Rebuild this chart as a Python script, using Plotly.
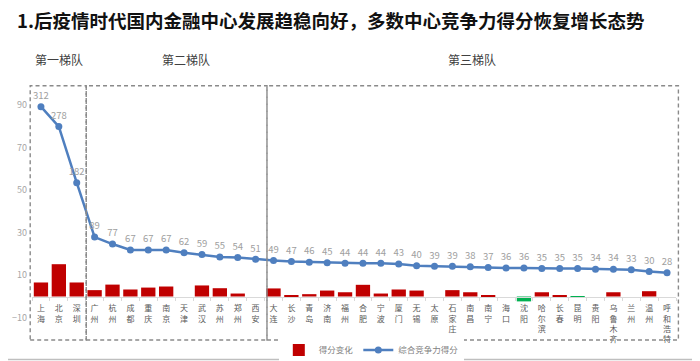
import plotly.graph_objects as go

cities = ["上海", "北京", "深圳", "广州", "杭州", "成都", "重庆", "南京", "天津", "武汉",
          "苏州", "郑州", "西安", "大连", "长沙", "青岛", "济南", "福州", "合肥", "宁波",
          "厦门", "无锡", "太原", "石家庄", "南昌", "南宁", "海口", "沈阳", "哈尔滨", "长春",
          "昆明", "贵阳", "乌鲁木齐", "兰州", "温州", "呼和浩特"]
score_change = [6.6, 15.2, 6.6, 3.0, 5.6, 3.3, 4.2, 4.7, 0, 5.2,
                3.9, 1.4, 0, 3.8, 0.5, 1.1, 2.8, 2.0, 5.5, 1.4,
                3.3, 2.8, 0, 3.0, 2.0, 0.3, 0, -2.3, 2.0, 0.6,
                -0.5, 0, 2.0, 0, 2.5, 0]
total_score = [312, 278, 182, 89, 77, 67, 67, 67, 62, 59,
               55, 54, 51, 49, 47, 46, 45, 44, 44, 44,
               43, 40, 39, 39, 38, 37, 36, 36, 35, 35,
               35, 34, 34, 33, 30, 28]
y_ticks = [-10, 10, 30, 50, 70, 90]
tier_names = ["第一梯队", "第二梯队", "第三梯队"]

FONT = "Noto Sans CJK SC"
tick_text = ["<br>".join(list(c)) for c in cities]
bar_colors = ["#C00000" if v >= 0 else "#00B050" for v in score_change]

# the page body has an 8px margin, so the figure is drawn 8px right/down
OFF = 8
W, H = 700 - OFF, 361 - OFF
PL, PR, PT, PB = 31.8, 675.6, 84, 339  # plot area in window pixels
PW, PH = PR - PL, PB - PT


def px_x(px):
    return (px - PL) / PW


def px_y(py):
    return (PB - py) / PH


fig = go.Figure()
fig.add_trace(go.Bar(
    x=cities, y=score_change, name="得分变化",
    marker=dict(color=bar_colors, line=dict(width=0)),
    yaxis="y",
))
fig.add_trace(go.Scatter(
    x=cities, y=total_score, name="综合竞争力得分",
    mode="lines+markers+text",
    text=[str(v) for v in total_score], textposition="top center",
    textfont=dict(family=FONT, size=9.5, color="#A0A0A0"),
    line=dict(color="#4F7FBF", width=2.5),
    marker=dict(color="#4F7FBF", size=7),
    yaxis="y2", cliponaxis=False,
))

ymin, ymax = -20, 100
zero_pos = (0 - ymin) / (ymax - ymin)

shapes = []
box_edges_px = [30, 86, 266.7, 678]
for i in range(3):
    shapes.append(dict(type="rect", xref="paper", yref="paper",
                       x0=px_x(box_edges_px[i]), x1=px_x(box_edges_px[i + 1]),
                       y0=px_y(340), y1=px_y(85.7),
                       line=dict(color="#8A8A8A", width=1.4, dash="4px,3px"),
                       fillcolor="rgba(0,0,0,0)", layer="above"))
# slide border lines
shapes.append(dict(type="line", xref="paper", yref="paper", x0=px_x(0), x1=px_x(700),
                   y0=px_y(359.5), y1=px_y(359.5), line=dict(color="#BFBFBF", width=1.5)))
shapes.append(dict(type="line", xref="paper", yref="paper", x0=px_x(699), x1=px_x(699),
                   y0=px_y(361), y1=px_y(0), line=dict(color="#D0D0D0", width=1)))

annotations = []
for name, px in zip(tier_names, [59, 186, 472]):
    annotations.append(dict(text=name, xref="paper", yref="paper",
                            x=px_x(px), y=px_y(60),
                            showarrow=False, xanchor="center", yanchor="middle",
                            font=dict(family=FONT, size=12, color="#404040")))

fig.update_layout(
    width=W, height=H,
    margin=dict(l=PL - OFF, r=W - (PR - OFF), t=PT - OFF, b=H - (PB - OFF), autoexpand=False),
    paper_bgcolor="white", plot_bgcolor="white",
    font=dict(family=FONT),
    title=dict(text="<b>1.后疫情时代国内金融中心发展趋稳向好，多数中心竞争力得分恢复增长态势</b>",
               x=(17 - OFF) / W, xanchor="left", y=1 - (22 - OFF) / H, yanchor="middle",
               font=dict(family=FONT, size=18.5, color="#111111")),
    bargap=0.2,
    showlegend=True,
    legend=dict(orientation="h", x=px_x(371), xanchor="center",
                y=px_y(350), yanchor="middle",
                font=dict(family=FONT, size=8.5, color="#7F7F7F"),
                itemwidth=30, tracegroupgap=0),
    xaxis=dict(type="category", range=[-0.5, 35.5], anchor="free", position=zero_pos,
               tickmode="array", tickvals=cities, ticktext=tick_text, tickangle=0,
               automargin=False, ticklabelstandoff=4,
               tickfont=dict(family=FONT, size=8, color="#595959"),
               showline=True, linecolor="#D9D9D9", linewidth=1,
               ticks="outside", tickson="boundaries", ticklen=3, tickcolor="#D9D9D9",
               showgrid=False, zeroline=False, fixedrange=True),
    yaxis=dict(range=[ymin, ymax], tickvals=y_ticks, showgrid=False, zeroline=False,
               showline=False, ticks="", ticklabelstandoff=4, automargin=False,
               tickfont=dict(family=FONT, size=9, color="#A6A6A6")),
    yaxis2=dict(range=[-85.4, 350.8], overlaying="y", visible=False, showgrid=False,
                automargin=False),
    shapes=shapes, annotations=annotations,
)

fig.write_html("out.html")
